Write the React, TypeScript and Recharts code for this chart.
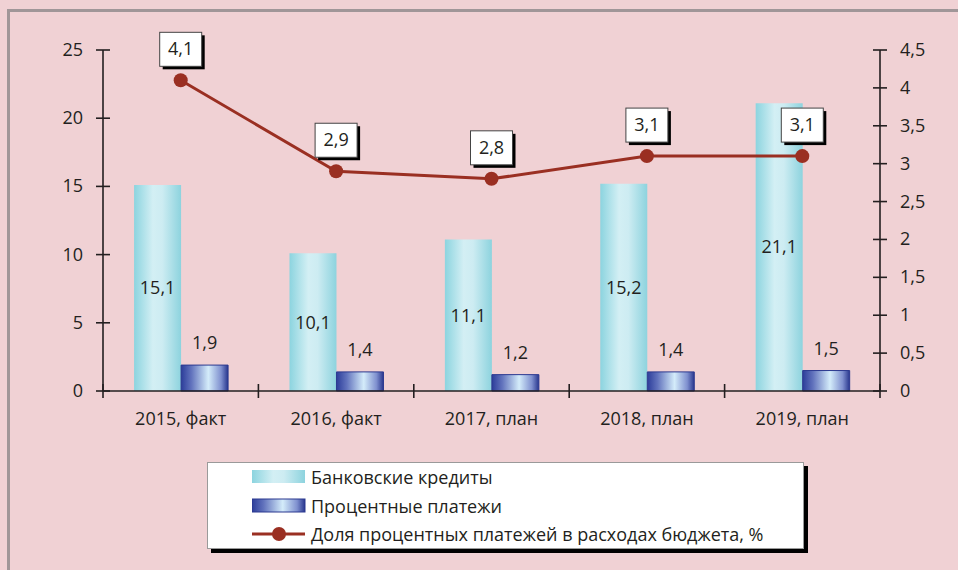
import React from "react";
import {
  ComposedChart,
  Bar,
  Line,
  XAxis,
  YAxis,
  LabelList,
  Legend,
} from "recharts";

const categories = ["2015, факт", "2016, факт", "2017, план", "2018, план", "2019, план"];
const bankCredits = [15.1, 10.1, 11.1, 15.2, 21.1];
const interestPayments = [1.9, 1.4, 1.2, 1.4, 1.5];
const interestShare = [4.1, 2.9, 2.8, 3.1, 3.1];

const leftTicks = [0, 5, 10, 15, 20, 25];
const rightTicks = [0, 0.5, 1, 1.5, 2, 2.5, 3, 3.5, 4, 4.5];

const seriesNames = {
  credits: "Банковские кредиты",
  payments: "Процентные платежи",
  share: "Доля процентных платежей в расходах бюджета, %",
};
const legendOrder = ["credits", "payments", "share"];

const data = categories.map((name, i) => ({
  name,
  credits: bankCredits[i],
  payments: interestPayments[i],
  share: interestShare[i],
}));

const W = 958;
const H = 570;
const BG = "#f0d1d4";
const AXIS = "#231f20";
const TEXT = "#231f20";
const LINE = "#9a2f22";
const FONT = "'Open Sans', 'Noto Sans', sans-serif";
const FS = 18;

const fmt = (v: number) => String(v).replace(".", ",");

const LeftTick = (props: any) => {
  const { x, y, payload } = props;
  const ax = x + 20;
  return (
    <g>
      <line x1={ax - 7} x2={ax + 7} y1={y} y2={y} stroke={AXIS} strokeWidth={1.6} />
      <text x={x} y={y} dy={6} textAnchor="end" fontSize={FS} fill={TEXT} fontFamily={FONT}>
        {fmt(payload.value)}
      </text>
    </g>
  );
};

const RightTick = (props: any) => {
  const { x, y, payload } = props;
  const ax = x - 20;
  return (
    <g>
      <line x1={ax - 7} x2={ax + 7} y1={y} y2={y} stroke={AXIS} strokeWidth={1.6} />
      <text x={x} y={y} dy={6} textAnchor="start" fontSize={FS} fill={TEXT} fontFamily={FONT}>
        {fmt(payload.value)}
      </text>
    </g>
  );
};

const CatTick = (props: any) => {
  const { x, y, payload, index, visibleTicksCount, width } = props;
  const band = (width || 777) / (visibleTicksCount || categories.length);
  const lx = x - band / 2;
  return (
    <g>
      <line x1={lx} x2={lx} y1={y - 7} y2={y + 7} stroke={AXIS} strokeWidth={1.6} />
      {index === visibleTicksCount - 1 && (
        <line x1={x + band / 2} x2={x + band / 2} y1={y - 7} y2={y + 7} stroke={AXIS} strokeWidth={1.6} />
      )}
      <text x={x} y={y} dy={34} textAnchor="middle" fontSize={FS} fill={TEXT} fontFamily={FONT}>
        {payload.value}
      </text>
    </g>
  );
};

const BoxLabel = (props: any) => {
  const { x, y, value } = props;
  const bw = 42;
  const bh = 34;
  const bx = x - bw / 2;
  const by = y - 48;
  return (
    <g>
      <rect x={bx + 3} y={by + 3} width={bw} height={bh} fill="#000" />
      <rect x={bx} y={by} width={bw} height={bh} fill="#fff" stroke="#444" strokeWidth={1} />
      <text x={x} y={by + bh / 2} dy={6} textAnchor="middle" fontSize={FS} fill={TEXT} fontFamily={FONT}>
        {fmt(value)}
      </text>
    </g>
  );
};

const renderLegend = (props: any) => {
  const payload = [...(props.payload || [])].sort(
    (a: any, b: any) => legendOrder.indexOf(a.dataKey) - legendOrder.indexOf(b.dataKey)
  );
  return (
    <div
      style={{
        width: 597,
        height: 87,
        boxSizing: "border-box",
        background: "#fff",
        border: "1px solid #9a9a9a",
        boxShadow: "4px 4px 0 #000",
        paddingTop: 0,
        fontFamily: FONT,
        fontSize: FS,
        color: TEXT,
      }}
    >
      {payload.map((entry: any) => (
        <div
          key={entry.dataKey}
          style={{ display: "flex", alignItems: "center", height: 28.5, paddingLeft: 44 }}
        >
          <svg width={54} height={16} style={{ marginRight: 5 }}>
            {entry.dataKey === "credits" && <rect x={0} y={1} width={53} height={13} fill="url(#lightGrad)" />}
            {entry.dataKey === "payments" && (
              <rect x={0} y={1} width={53} height={13} fill="url(#darkGrad)" stroke="#2b3990" strokeWidth={1} />
            )}
            {entry.dataKey === "share" && (
              <g>
                <line x1={0} x2={53} y1={8} y2={8} stroke={LINE} strokeWidth={3} />
                <circle cx={27} cy={8} r={7} fill={LINE} />
              </g>
            )}
          </svg>
          <span>{entry.value}</span>
        </div>
      ))}
    </div>
  );
};

export default function App() {
  return (
    <div style={{ position: "absolute", left: 0, top: 0, width: W, height: H, background: BG, overflow: "hidden" }}>
      <div
        style={{
          position: "absolute",
          left: 7,
          top: 9,
          width: 1200,
          height: 1000,
          borderLeft: "3px solid #a09698",
          borderTop: "3px solid #a09698",
        }}
      />
      <ComposedChart
        width={W}
        height={H}
        data={data}
        margin={{ top: 50, right: 18, left: 43, bottom: 139 }}
        barCategoryGap="20%"
        barGap={0}
        style={{ position: "absolute", left: 0, top: 0, fontFamily: FONT }}
      >
        <defs>
          <linearGradient id="lightGrad" x1="0" y1="0" x2="1" y2="0">
            <stop offset="0%" stopColor="#8cd4df" />
            <stop offset="40%" stopColor="#d3eff4" />
            <stop offset="60%" stopColor="#cdecf2" />
            <stop offset="100%" stopColor="#8dd3de" />
          </linearGradient>
          <linearGradient id="darkGrad" x1="0" y1="0" x2="1" y2="0">
            <stop offset="0%" stopColor="#2c3d9a" />
            <stop offset="22%" stopColor="#6273bd" />
            <stop offset="58%" stopColor="#d4ecfa" />
            <stop offset="85%" stopColor="#7f90cf" />
            <stop offset="100%" stopColor="#28368e" />
          </linearGradient>
        </defs>
        <XAxis
          dataKey="name"
          xAxisId="x"
          height={40}
          axisLine={{ stroke: AXIS, strokeWidth: 1.6 }}
          tickLine={false}
          tickSize={0}
          tickMargin={0}
          tick={CatTick}
          interval={0}
        />
        <YAxis
          yAxisId="left"
          orientation="left"
          width={60}
          domain={[0, 25]}
          ticks={leftTicks}
          axisLine={{ stroke: AXIS, strokeWidth: 1.6 }}
          tickLine={false}
          tickSize={0}
          tickMargin={20}
          tick={LeftTick}
          interval={0}
        />
        <YAxis
          yAxisId="right"
          orientation="right"
          width={60}
          domain={[0, 4.5]}
          ticks={rightTicks}
          axisLine={{ stroke: AXIS, strokeWidth: 1.6 }}
          tickLine={false}
          tickSize={0}
          tickMargin={20}
          tick={RightTick}
          interval={0}
        />
        <Legend
          content={renderLegend}
          layout="horizontal"
          verticalAlign="middle"
          align="center"
          wrapperStyle={{ position: "absolute", left: 207, top: 462, width: 600, height: 92 }}
        />
        <Bar
          xAxisId="x"
          yAxisId="left"
          dataKey="credits"
          name={seriesNames.credits}
          fill="url(#lightGrad)"
          isAnimationActive={false}
        >
          <LabelList
            dataKey="credits"
            position="center"
            formatter={(v: any) => fmt(v)}
            style={{ fontSize: FS, fill: TEXT, fontFamily: FONT }}
          />
        </Bar>
        <Bar
          xAxisId="x"
          yAxisId="left"
          dataKey="payments"
          name={seriesNames.payments}
          fill="url(#darkGrad)"
          stroke="#2b3990"
          strokeWidth={1}
          isAnimationActive={false}
        >
          <LabelList
            dataKey="payments"
            position="top"
            offset={16}
            formatter={(v: any) => fmt(v)}
            style={{ fontSize: FS, fill: TEXT, fontFamily: FONT }}
          />
        </Bar>
        <Line
          xAxisId="x"
          yAxisId="right"
          dataKey="share"
          name={seriesNames.share}
          stroke={LINE}
          strokeWidth={3}
          dot={{ r: 7, fill: LINE, stroke: LINE, strokeWidth: 0 }}
          activeDot={false}
          isAnimationActive={false}
        >
          <LabelList dataKey="share" content={BoxLabel} />
        </Line>
      </ComposedChart>
    </div>
  );
}
